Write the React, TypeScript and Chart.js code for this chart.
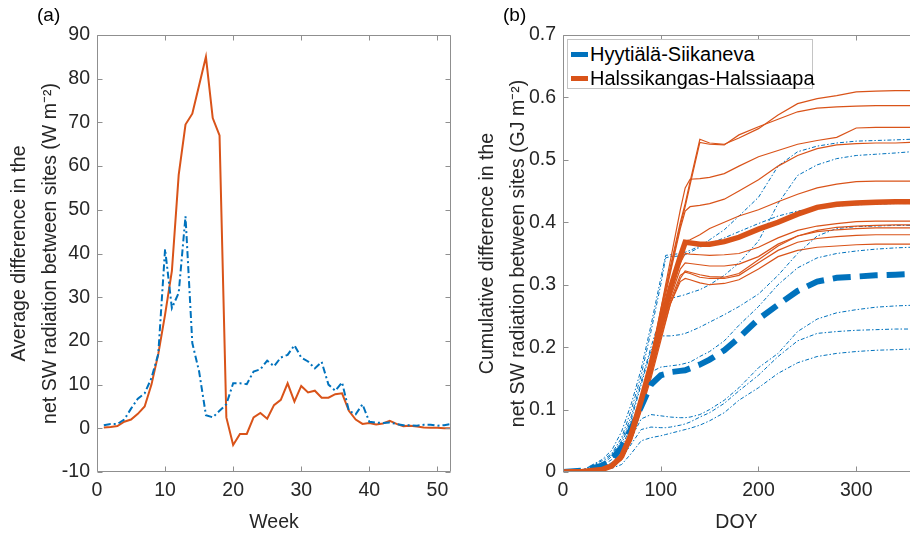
import React, { useEffect, useRef } from "react";
import { Chart, registerables } from "chart.js";

Chart.register(...registerables);

const FONT = '"Liberation Sans", Arial, Helvetica, sans-serif';
const BLUE = "#0072BD";
const ORANGE = "#D95319";
const TEXT = "#262626";
const AXIS = "#8f8f8f";

// ---------- Panel (a): weekly average difference ----------
const weeks = [1, 2, 3, 4, 5, 6, 7, 8, 9, 10, 11, 12, 13, 14, 15, 16, 17, 18, 19, 20, 21, 22, 23, 24, 25, 26,
  27, 28, 29, 30, 31, 32, 33, 34, 35, 36, 37, 38, 39, 40, 41, 42, 43, 44, 45, 46, 47, 48, 49, 50, 51, 52];
const weeklyHyytiala = [0.7, 1.0, 1.0, 2, 4.5, 6.8, 8, 11.5, 17, 41, 27.5, 31, 48.5, 19.5, 13, 3, 2.5, 4, 5.5,
  10.3, 10.3, 10.1, 13, 13.5, 15.5, 14.2, 16.2, 16.8, 19, 16.2, 15.3, 13.7, 15.2, 10, 8.6, 10.5, 4, 3.2, 5.5,
  1.5, 1.3, 1.2, 1.3, 1.0, 0.7, 0.7, 0.6, 0.8, 0.8, 0.6, 0.7, 1.0];
const weeklyHalssi = [0.2, 0.3, 0.5, 1.5, 2, 3.3, 5, 10, 17, 26, 36, 58, 69.5, 72, 78.5, 85, 71, 67, 2.5, -3.8,
  -1.3, -1.3, 2.5, 3.5, 2.2, 5.3, 6.5, 10.3, 6.1, 9.7, 8.2, 8.6, 7, 7, 7.8, 8, 4, 2, 1, 1.2, 0.9, 1.1, 1.7, 1.0,
  0.5, 0.6, 0.4, 0.2, 0.1, 0.1, 0, 0];
const weekTicks = [0, 10, 20, 30, 40, 50];
const avgTicks = [-10, 0, 10, 20, 30, 40, 50, 60, 70, 80, 90];

// ---------- Panel (b): cumulative difference ----------
const doy = [0, 20, 40, 50, 60, 70, 80, 90, 100, 105, 110, 120, 125, 130, 140, 150, 165, 180, 200, 220, 240, 260, 280, 300, 320, 340, 356];
const doyTicks = [0, 100, 200, 300];
const cumTicks = [0, 0.1, 0.2, 0.3, 0.4, 0.5, 0.6, 0.7];

const hyyMean = [0, 0.002, 0.01, 0.02, 0.04, 0.07, 0.105, 0.14, 0.155, 0.157, 0.16, 0.162, 0.163, 0.166, 0.172, 0.18, 0.195, 0.215, 0.245, 0.268, 0.29, 0.305, 0.311, 0.313, 0.315, 0.316, 0.317];
const halMean = [0, 0.001, 0.004, 0.01, 0.025, 0.062, 0.115, 0.172, 0.235, 0.265, 0.295, 0.345, 0.368, 0.367, 0.365, 0.365, 0.369, 0.376, 0.389, 0.4, 0.413, 0.424, 0.429, 0.431, 0.432, 0.433, 0.433];

const halYear1 = [0, 0.001, 0.005, 0.012, 0.03, 0.068, 0.12, 0.185, 0.26, 0.295, 0.33, 0.40, 0.43, 0.465, 0.533, 0.527, 0.525, 0.535, 0.55, 0.572, 0.59, 0.598, 0.603, 0.609, 0.61, 0.611, 0.611];
const halYear2 = [0, 0.001, 0.004, 0.011, 0.028, 0.066, 0.118, 0.182, 0.255, 0.29, 0.325, 0.395, 0.425, 0.46, 0.528, 0.525, 0.524, 0.54, 0.553, 0.565, 0.577, 0.583, 0.585, 0.586, 0.587, 0.587, 0.587];
const halYear3 = [0, 0.001, 0.004, 0.011, 0.028, 0.065, 0.117, 0.18, 0.26, 0.3, 0.34, 0.42, 0.455, 0.469, 0.47, 0.472, 0.478, 0.49, 0.505, 0.515, 0.525, 0.531, 0.536, 0.551, 0.552, 0.552, 0.552];
const halYear4 = [0, 0.001, 0.004, 0.01, 0.026, 0.063, 0.115, 0.175, 0.25, 0.285, 0.32, 0.39, 0.418, 0.425, 0.427, 0.43, 0.437, 0.45, 0.468, 0.49, 0.507, 0.518, 0.524, 0.526, 0.527, 0.527, 0.528];
const halYear5 = [0, 0.001, 0.004, 0.01, 0.025, 0.06, 0.112, 0.17, 0.235, 0.265, 0.295, 0.345, 0.37, 0.372, 0.38, 0.39, 0.4, 0.41, 0.42, 0.433, 0.445, 0.455, 0.461, 0.465, 0.466, 0.466, 0.466];
const halYear6 = [0, 0.001, 0.003, 0.009, 0.023, 0.058, 0.11, 0.165, 0.23, 0.26, 0.29, 0.335, 0.35, 0.349, 0.348, 0.347, 0.348, 0.35, 0.36, 0.375, 0.387, 0.394, 0.398, 0.401, 0.402, 0.402, 0.402];
const halYear7 = [0, 0.001, 0.003, 0.009, 0.022, 0.056, 0.107, 0.16, 0.225, 0.253, 0.28, 0.325, 0.335, 0.334, 0.332, 0.33, 0.33, 0.333, 0.345, 0.365, 0.378, 0.385, 0.388, 0.39, 0.391, 0.391, 0.391];
const halYear8 = [0, 0.001, 0.003, 0.008, 0.021, 0.054, 0.105, 0.16, 0.22, 0.248, 0.275, 0.315, 0.32, 0.318, 0.312, 0.31, 0.31, 0.315, 0.335, 0.355, 0.368, 0.374, 0.377, 0.379, 0.38, 0.38, 0.38];
const halYear9 = [0, 0.001, 0.003, 0.008, 0.02, 0.052, 0.1, 0.155, 0.215, 0.243, 0.27, 0.305, 0.31, 0.308, 0.303, 0.3, 0.302, 0.308, 0.325, 0.345, 0.355, 0.36, 0.362, 0.364, 0.365, 0.365, 0.365];
const halYear10 = [0, 0.001, 0.003, 0.008, 0.02, 0.05, 0.098, 0.15, 0.21, 0.24, 0.27, 0.31, 0.322, 0.32, 0.316, 0.313, 0.312, 0.318, 0.34, 0.362, 0.378, 0.387, 0.392, 0.394, 0.395, 0.396, 0.396];

const hyyYear1 = [0, 0.003, 0.02, 0.035, 0.065, 0.11, 0.165, 0.235, 0.31, 0.347, 0.348, 0.35, 0.352, 0.355, 0.362, 0.372, 0.388, 0.41, 0.44, 0.49, 0.513, 0.522, 0.527, 0.53, 0.531, 0.532, 0.533];
const hyyYear2 = [0, 0.003, 0.015, 0.028, 0.05, 0.09, 0.145, 0.2, 0.25, 0.268, 0.278, 0.282, 0.284, 0.287, 0.292, 0.3, 0.315, 0.335, 0.37, 0.43, 0.475, 0.492, 0.502, 0.507, 0.509, 0.511, 0.513];
const hyyYear3 = [0, 0.003, 0.018, 0.03, 0.055, 0.1, 0.155, 0.225, 0.3, 0.343, 0.345, 0.346, 0.348, 0.352, 0.36, 0.366, 0.375, 0.385, 0.398, 0.41, 0.418, 0.423, 0.426, 0.428, 0.429, 0.43, 0.43];
const hyyYear4 = [0, 0.002, 0.012, 0.025, 0.045, 0.085, 0.14, 0.195, 0.218, 0.218, 0.218, 0.22, 0.222, 0.225, 0.232, 0.24, 0.252, 0.265, 0.285, 0.315, 0.35, 0.378, 0.39, 0.393, 0.394, 0.395, 0.395];
const hyyYear5 = [0, 0.002, 0.01, 0.02, 0.04, 0.075, 0.125, 0.16, 0.168, 0.169, 0.17, 0.172, 0.174, 0.176, 0.185, 0.193, 0.21, 0.235, 0.265, 0.3, 0.327, 0.343, 0.35, 0.354, 0.357, 0.359, 0.36];
const hyyYear6 = [0, 0.002, 0.008, 0.015, 0.03, 0.055, 0.085, 0.092, 0.09, 0.089, 0.088, 0.087, 0.087, 0.088, 0.092, 0.1, 0.115, 0.135, 0.167, 0.19, 0.225, 0.245, 0.255, 0.26, 0.264, 0.266, 0.267];
const hyyYear7 = [0, 0.001, 0.006, 0.012, 0.022, 0.045, 0.068, 0.072, 0.071, 0.071, 0.072, 0.075, 0.077, 0.08, 0.088, 0.095, 0.11, 0.13, 0.155, 0.185, 0.21, 0.222, 0.225, 0.227, 0.228, 0.229, 0.229];
const hyyYear8 = [0, 0.001, 0.003, 0.006, 0.012, 0.03, 0.05, 0.055, 0.058, 0.06, 0.062, 0.066, 0.068, 0.07, 0.075, 0.082, 0.095, 0.115, 0.135, 0.158, 0.175, 0.185, 0.19, 0.193, 0.195, 0.196, 0.197];

const halYears = [halYear1, halYear2, halYear3, halYear4, halYear5, halYear6, halYear7, halYear8, halYear9, halYear10];
const hyyYears = [hyyYear1, hyyYear2, hyyYear3, hyyYear4, hyyYear5, hyyYear6, hyyYear7, hyyYear8];

const toXY = (xs: number[], ys: number[]) => xs.map((x, i) => ({ x, y: ys[i] }));

function framePlugin(drawRight: boolean) {
  return {
    id: "frame",
    afterDatasetsDraw(chart: any) {
      const { ctx, chartArea } = chart;
      const xs = chart.scales.x;
      const ys = chart.scales.y;
      const L = Math.round(chartArea.left) + 0.5;
      const R = Math.round(chartArea.right) - 0.5;
      const T = Math.round(chartArea.top) + 0.5;
      const B = Math.round(chartArea.bottom) - 0.5;
      const RR = drawRight ? R : R + 1;
      const tl = 5;
      ctx.save();
      ctx.strokeStyle = AXIS;
      ctx.lineWidth = 1;
      ctx.beginPath();
      ctx.moveTo(L, T);
      ctx.lineTo(L, B);
      ctx.lineTo(RR, B);
      ctx.moveTo(L, T);
      ctx.lineTo(RR, T);
      if (drawRight) {
        ctx.moveTo(R, T);
        ctx.lineTo(R, B);
      }
      xs.ticks.forEach((t: any) => {
        const p = Math.round(xs.getPixelForValue(t.value)) + 0.5;
        ctx.moveTo(p, B);
        ctx.lineTo(p, B - tl);
        ctx.moveTo(p, T);
        ctx.lineTo(p, T + tl);
      });
      ys.ticks.forEach((t: any) => {
        const p = Math.round(ys.getPixelForValue(t.value)) + 0.5;
        ctx.moveTo(L, p);
        ctx.lineTo(L + tl, p);
        if (drawRight) {
          ctx.moveTo(R, p);
          ctx.lineTo(R - tl, p);
        }
      });
      ctx.stroke();
      ctx.restore();
    },
  };
}

const tickFont = { family: FONT, size: 19.5 };
const titleFont = { family: FONT, size: 19.5, lineHeight: 1.55 };
const xTitleFont = { family: FONT, size: 19.5, lineHeight: 1.2 };

export default function App() {
  const refA = useRef<HTMLCanvasElement | null>(null);
  const refB = useRef<HTMLCanvasElement | null>(null);

  useEffect(() => {
    if (!refA.current || !refB.current) return;

    const chartA = new Chart(refA.current, {
      type: "line",
      data: {
        datasets: [
          {
            label: "Halssikangas-Halssiaapa",
            data: toXY(weeks, weeklyHalssi),
            borderColor: ORANGE,
            borderWidth: 2,
            pointRadius: 0,
            tension: 0,
            order: 1,
          },
          {
            label: "Hyytiälä-Siikaneva",
            data: toXY(weeks, weeklyHyytiala),
            borderColor: BLUE,
            borderWidth: 2,
            borderDash: [7, 3, 2, 3],
            pointRadius: 0,
            tension: 0,
            order: 0,
          },
        ],
      },
      options: {
        responsive: false,
        animation: false,
        devicePixelRatio: 1,
        events: [],
        layout: { padding: { left: 0, right: 9, top: 35, bottom: 0 } },
        plugins: { legend: { display: false }, tooltip: { enabled: false } },
        scales: {
          x: {
            type: "linear",
            min: 0,
            max: 52,
            grid: { display: false, drawTicks: false },
            border: { display: false },
            ticks: { color: TEXT, font: tickFont, padding: 7, maxRotation: 0, autoSkip: false },
            afterBuildTicks: (s: any) => {
              s.ticks = weekTicks.map((v) => ({ value: v }));
            },
            afterFit: (s: any) => {
              s.height = 68;
            },
            title: {
              display: true,
              text: "Week",
              color: TEXT,
              font: xTitleFont,
              padding: { top: 0, bottom: 6 },
            },
          },
          y: {
            type: "linear",
            min: -10,
            max: 90,
            grid: { display: false, drawTicks: false },
            border: { display: false },
            ticks: { color: TEXT, font: tickFont, padding: 7, autoSkip: false },
            afterBuildTicks: (s: any) => {
              s.ticks = avgTicks.map((v) => ({ value: v }));
            },
            afterFit: (s: any) => {
              s.width = 97;
            },
            title: {
              display: true,
              text: ["Average difference in the", "net SW radiation between sites (W m\u207B\u00B2)"],
              color: TEXT,
              font: titleFont,
              padding: { top: 5, bottom: 0 },
            },
          },
        },
      },
      plugins: [framePlugin(true)],
    } as any);

    const datasetsB: any[] = [];
    hyyYears.forEach((arr, i) => {
      datasetsB.push({
        label: "Hyytiälä-Siikaneva year " + (i + 1),
        data: toXY(doy, arr),
        borderColor: BLUE,
        borderWidth: 1,
        borderDash: [4, 2, 1.5, 2],
        pointRadius: 0,
        tension: 0,
        order: 4,
      });
    });
    halYears.forEach((arr, i) => {
      datasetsB.push({
        label: "Halssikangas-Halssiaapa year " + (i + 1),
        data: toXY(doy, arr),
        borderColor: ORANGE,
        borderWidth: 1.2,
        pointRadius: 0,
        tension: 0,
        order: 3,
      });
    });
    datasetsB.push({
      label: "Hyytiälä-Siikaneva",
      data: toXY(doy, hyyMean),
      borderColor: BLUE,
      borderWidth: 6,
      borderDash: [18, 9],
      pointRadius: 0,
      tension: 0,
      order: 1,
    });
    datasetsB.push({
      label: "Halssikangas-Halssiaapa",
      data: toXY(doy, halMean),
      borderColor: ORANGE,
      borderWidth: 5.5,
      pointRadius: 0,
      tension: 0,
      order: 0,
    });

    const chartB = new Chart(refB.current, {
      type: "line",
      data: { datasets: datasetsB },
      options: {
        responsive: false,
        animation: false,
        devicePixelRatio: 1,
        events: [],
        layout: { padding: { left: 0, right: 0, top: 35, bottom: 0 } },
        plugins: { legend: { display: false }, tooltip: { enabled: false } },
        scales: {
          x: {
            type: "linear",
            min: 0,
            max: 355,
            grid: { display: false, drawTicks: false },
            border: { display: false },
            ticks: { color: TEXT, font: tickFont, padding: 7, maxRotation: 0, autoSkip: false },
            afterBuildTicks: (s: any) => {
              s.ticks = doyTicks.map((v) => ({ value: v }));
            },
            afterFit: (s: any) => {
              s.height = 68;
            },
            title: {
              display: true,
              text: "DOY",
              color: TEXT,
              font: xTitleFont,
              padding: { top: 0, bottom: 6 },
            },
          },
          y: {
            type: "linear",
            min: 0,
            max: 0.7,
            grid: { display: false, drawTicks: false },
            border: { display: false },
            ticks: {
              color: TEXT,
              font: tickFont,
              padding: 7,
              autoSkip: false,
              callback: (v: any) => String(Math.round(Number(v) * 10) / 10),
            },
            afterBuildTicks: (s: any) => {
              s.ticks = cumTicks.map((v) => ({ value: v }));
            },
            afterFit: (s: any) => {
              s.width = 103;
            },
            title: {
              display: true,
              text: ["Cumulative difference in the", "net SW radiation between sites (GJ m\u207B\u00B2)"],
              color: TEXT,
              font: titleFont,
              padding: { top: 13, bottom: 0 },
            },
          },
        },
      },
      plugins: [framePlugin(false)],
    } as any);

    return () => {
      chartA.destroy();
      chartB.destroy();
    };
  }, []);

  const legendRow = (top: number, color: string, text: string) => (
    <div style={{ position: "absolute", left: 0, top, height: 24, width: "100%" }}>
      <div style={{ position: "absolute", left: 3, top: 10, width: 17, height: 5, background: color }} />
      <div style={{ position: "absolute", left: 22, top: 0, lineHeight: "24px", fontSize: 20, color: "#000", whiteSpace: "nowrap" }}>
        {text}
      </div>
    </div>
  );

  return (
    <div style={{ position: "absolute", left: 0, top: 0, width: 910, height: 540, background: "#fff", fontFamily: FONT, overflow: "hidden" }}>
      <canvas ref={refA} width={460} height={540} style={{ position: "absolute", left: 0, top: 0, width: 460, height: 540 }} />
      <canvas ref={refB} width={450} height={540} style={{ position: "absolute", left: 460, top: 0, width: 450, height: 540 }} />
      <div style={{ position: "absolute", left: 37, top: 4, fontSize: 19, lineHeight: "22px", color: "#000" }}>(a)</div>
      <div style={{ position: "absolute", left: 503, top: 4, fontSize: 19, lineHeight: "22px", color: "#000" }}>(b)</div>
      <div style={{ position: "absolute", left: 567, top: 39, width: 246, height: 50, boxSizing: "border-box", border: "1px solid #c4c4c4", background: "#fff" }}>
        {legendRow(2, BLUE, "Hyytiälä-Siikaneva")}
        {legendRow(26, ORANGE, "Halssikangas-Halssiaapa")}
      </div>
    </div>
  );
}
